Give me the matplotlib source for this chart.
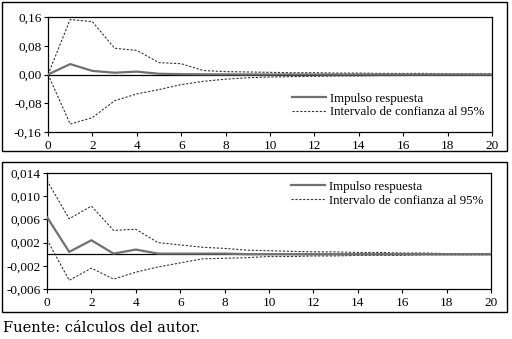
import numpy as np
import matplotlib.pyplot as plt
from matplotlib.patches import Rectangle

plt.rcParams['font.family'] = ['Liberation Serif', 'DejaVu Serif']

# ---------------------------
# Data
# ---------------------------
periods = np.arange(0, 21)

# top panel
irf_top = [0.0, 0.029, 0.010, 0.005, 0.008, 0.002, 0.001, 0.0005, 0.0003, 0.0002, 0.0001,
           0.0001, 0.0, 0.0, 0.0, 0.0, 0.0, 0.0, 0.0, 0.0, 0.0]
upper_top = [0.0, 0.153, 0.147, 0.073, 0.067, 0.033, 0.030, 0.011, 0.008, 0.007, 0.006,
             0.005, 0.005, 0.004, 0.004, 0.003, 0.003, 0.003, 0.002, 0.002, 0.002]
lower_top = [0.0, -0.138, -0.120, -0.073, -0.054, -0.042, -0.028, -0.019, -0.013, -0.009, -0.007,
             -0.006, -0.005, -0.004, -0.004, -0.003, -0.003, -0.002, -0.002, -0.002, -0.002]

# bottom panel
irf_bot = [0.0064, 0.0004, 0.0024, 0.0001, 0.0008, 0.0001, 0.0001, 0.0001, 0.0001, 0.0,
           0.0, 0.0, 0.0, 0.0, 0.0, 0.0, 0.0, 0.0, 0.0, 0.0, 0.0]
upper_bot = [0.0127, 0.0061, 0.0083, 0.0041, 0.0043, 0.0020, 0.0016, 0.0012, 0.0010, 0.0007,
             0.0006, 0.0005, 0.0004, 0.0004, 0.0003, 0.0003, 0.0002, 0.0002, 0.0001, 0.0001, 0.0001]
lower_bot = [0.0025, -0.0045, -0.0024, -0.0043, -0.0031, -0.0022, -0.0015, -0.0008, -0.0007, -0.0006,
             -0.0004, -0.0004, -0.0003, -0.0003, -0.0002, -0.0002, -0.0002, -0.0001, -0.0001, -0.0001, -0.0001]

xticks = np.arange(0, 21, 2)
yticks_top = [-0.16, -0.08, 0.0, 0.08, 0.16]
yticks_bot = [-0.006, -0.002, 0.002, 0.006, 0.010, 0.014]

fig = plt.figure(figsize=(5.12, 3.39), dpi=100)

# outer frames around each panel
for y0, y1 in [(2, 151), (162, 312)]:
    fig.patches.append(Rectangle((2 / 512, 1 - y1 / 339), 505 / 512, (y1 - y0) / 339,
                                 transform=fig.transFigure, fill=False,
                                 edgecolor='black', lw=1.0))


def panel(rect, irf, up, lo, yticks, ylim, fmt, legend_loc, legend_anchor):
    ax = fig.add_axes(rect)
    ax.axhline(0, color='black', lw=0.9, zorder=1)
    ax.plot(periods, irf, color='#707070', lw=1.6, label='Impulso respuesta', zorder=3)
    ax.plot(periods, up, color='#333333', lw=0.8, ls=(0, (2, 1.5)),
            label='Intervalo de confianza al 95%', zorder=2)
    ax.plot(periods, lo, color='#333333', lw=0.8, ls=(0, (2, 1.5)), zorder=2)
    ax.set_xlim(0, 20)
    ax.set_ylim(*ylim)
    ax.set_xticks(xticks)
    ax.set_yticks(yticks)
    ax.set_yticklabels([fmt.format(v).replace('.', ',') for v in yticks])
    ax.tick_params(labelsize=9.5, length=3, width=0.8, pad=1.5)
    ax.tick_params(axis='x', pad=2.5)
    for s in ax.spines.values():
        s.set_linewidth(0.9)
    ax.legend(loc=legend_loc, bbox_to_anchor=legend_anchor, frameon=False, fontsize=9.3,
              handlelength=2.6, handletextpad=0.3, labelspacing=0.15, borderaxespad=0.2)
    return ax


panel([48 / 512, 1 - 132 / 339, 444 / 512, 115 / 339], irf_top, upper_top, lower_top,
      yticks_top, (-0.16, 0.16), '{:.2f}', 'lower right', (1.0, 0.05))
panel([47 / 512, 1 - 289 / 339, 444 / 512, 116 / 339], irf_bot, upper_bot, lower_bot,
      yticks_bot, (-0.006, 0.014), '{:.3f}', 'upper right', (1.0, 1.0))

fig.text(3 / 512, 1 - 328 / 339, 'Fuente: cálculos del autor.', fontsize=10.5,
         va='center', ha='left', family=['DejaVu Serif'])

fig.savefig('out.png', dpi=100)
